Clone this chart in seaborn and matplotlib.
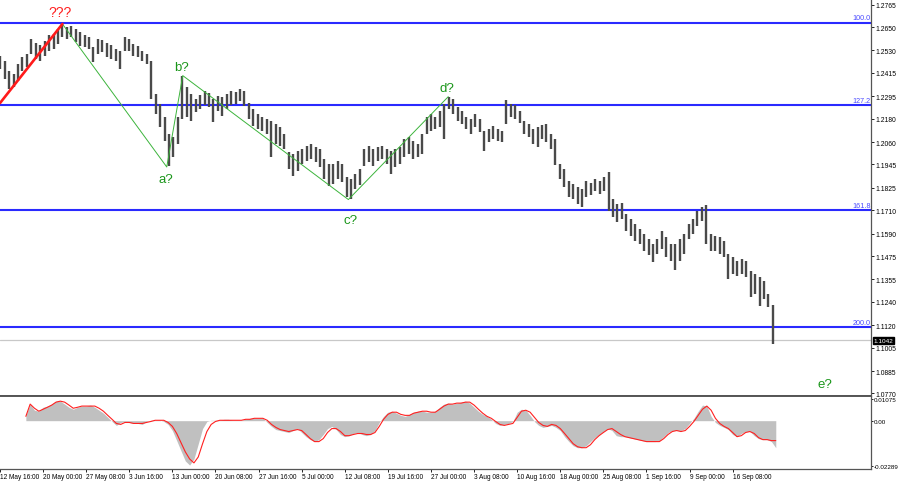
import numpy as np
import matplotlib
matplotlib.use("Agg")
import matplotlib.pyplot as plt
import matplotlib.transforms as mtransforms
import seaborn as sns

# ---------------- data ----------------
highs = [1.2502,1.2476,1.2425,1.2409,1.2461,1.2496,1.2512,1.2589,1.2568,1.2558,
         1.2579,1.2609,1.2614,1.2640,1.2666,1.2650,1.2655,1.2640,1.2625,1.2609,
         1.2599,1.2548,1.2589,1.2584,1.2568,1.2558,1.2537,1.2527,1.2599,1.2589,
         1.2563,1.2553,1.2527,1.2512,1.2476,1.2307,1.2255,1.2189,1.2101,1.2086,
         1.2189,1.2399,1.2343,1.2307,1.2281,1.2302,1.2322,1.2312,1.2281,1.2296,
         1.2291,1.2307,1.2322,1.2317,1.2332,1.2322,1.2260,1.2230,1.2204,1.2189,
         1.2178,1.2168,1.2153,1.2137,1.2101,1.2009,1.1999,1.2014,1.2025,1.2040,
         1.2050,1.2035,1.2025,1.1973,1.1948,1.1948,1.1963,1.1948,1.1881,1.1871,
         1.1896,1.1922,1.2025,1.2040,1.2025,1.2035,1.2040,1.2025,1.2014,1.2025,
         1.2035,1.2076,1.2086,1.2066,1.2050,1.2101,1.2189,1.2204,1.2189,1.2219,
         1.2255,1.2291,1.2281,1.2240,1.2219,1.2189,1.2178,1.2204,1.2178,1.2117,
         1.2127,1.2142,1.2127,1.2117,1.2276,1.2255,1.2250,1.2219,1.2168,1.2153,
         1.2127,1.2137,1.2148,1.2153,1.2101,1.2076,1.1948,1.1922,1.1860,1.1845,
         1.1830,1.1819,1.1860,1.1850,1.1871,1.1860,1.1881,1.1907,1.1768,1.1742,
         1.1747,1.1691,1.1665,1.1640,1.1614,1.1588,1.1563,1.1537,1.1563,1.1604,
         1.1573,1.1537,1.1537,1.1563,1.1588,1.1640,1.1665,1.1706,1.1727,1.1737,
         1.1588,1.1578,1.1573,1.1553,1.1486,1.1470,1.1450,1.1460,1.1450,1.1399,
         1.1383,1.1368,1.1347,1.1281,1.1224]
lows = [1.2435,1.2384,1.2332,1.2343,1.2373,1.2425,1.2445,1.2512,1.2486,1.2476,
        1.2502,1.2527,1.2537,1.2563,1.2599,1.2589,1.2599,1.2573,1.2553,1.2548,
        1.2537,1.2471,1.2512,1.2522,1.2496,1.2486,1.2476,1.2435,1.2527,1.2527,
        1.2502,1.2496,1.2476,1.2461,1.2281,1.2204,1.2137,1.2066,1.1937,1.1983,
        1.2050,1.2178,1.2189,1.2168,1.2214,1.2230,1.2250,1.2240,1.2163,1.2219,
        1.2194,1.2230,1.2250,1.2255,1.2271,1.2245,1.2178,1.2142,1.2127,1.2117,
        1.2101,1.1983,1.2050,1.2040,1.2025,1.1922,1.1886,1.1912,1.1948,1.1963,
        1.1973,1.1958,1.1932,1.1871,1.1835,1.1845,1.1871,1.1855,1.1778,1.1768,
        1.1819,1.1840,1.1937,1.1958,1.1937,1.1963,1.1973,1.1948,1.1896,1.1932,
        1.1948,1.1983,1.1999,1.1973,1.1983,1.1999,1.2101,1.2117,1.2127,1.2137,
        1.2076,1.2230,1.2204,1.2168,1.2153,1.2127,1.2101,1.2137,1.2112,1.2014,
        1.2060,1.2076,1.2066,1.2060,1.2153,1.2189,1.2178,1.2158,1.2101,1.2086,
        1.2050,1.2035,1.2076,1.2060,1.2025,1.1942,1.1871,1.1830,1.1778,1.1768,
        1.1742,1.1727,1.1778,1.1789,1.1809,1.1794,1.1809,1.1706,1.1676,1.1650,
        1.1665,1.1604,1.1578,1.1553,1.1537,1.1501,1.1481,1.1445,1.1486,1.1512,
        1.1470,1.1450,1.1404,1.1450,1.1486,1.1563,1.1588,1.1629,1.1655,1.1537,
        1.1501,1.1501,1.1486,1.1470,1.1358,1.1383,1.1373,1.1383,1.1368,1.1265,
        1.1281,1.1219,1.1255,1.1214,1.1024]

osc = [0.0027,0.0084,0.0053,0.0048,0.0068,0.0074,0.0084,0.0099,0.0099,0.0084,
       0.0068,0.0058,0.0068,0.0074,0.0074,0.0079,0.0068,0.0053,0.0038,0.0017,
       -0.0004,-0.0024,-0.0009,-0.0004,-0.0009,-0.0014,-0.0014,-0.0019,-0.0004,0.0002,
       0.0002,0.0002,-0.0004,-0.0019,-0.0050,-0.0101,-0.0153,-0.0204,-0.0225,-0.0194,
       -0.0117,-0.0040,-0.0004,0.0002,0.0002,0.0002,0.0007,0.0007,0.0002,0.0002,
       0.0002,0.0007,0.0012,0.0012,0.0012,0.0012,-0.0009,-0.0029,-0.0045,-0.0050,
       -0.0055,-0.0060,-0.0050,-0.0040,-0.0060,-0.0081,-0.0096,-0.0106,-0.0096,-0.0070,
       -0.0040,-0.0029,-0.0045,-0.0070,-0.0081,-0.0076,-0.0065,-0.0060,-0.0070,-0.0076,
       -0.0070,-0.0050,-0.0009,0.0022,0.0043,0.0048,0.0038,0.0027,0.0022,0.0032,
       0.0043,0.0048,0.0048,0.0043,0.0043,0.0048,0.0068,0.0084,0.0089,0.0084,
       0.0089,0.0094,0.0099,0.0089,0.0068,0.0048,0.0032,0.0022,0.0007,-0.0014,
       -0.0024,-0.0019,-0.0014,-0.0004,0.0043,0.0058,0.0053,0.0027,-0.0004,-0.0024,
       -0.0034,-0.0029,-0.0024,-0.0034,-0.0050,-0.0081,-0.0106,-0.0127,-0.0137,-0.0137,
       -0.0127,-0.0106,-0.0086,-0.0070,-0.0055,-0.0040,-0.0050,-0.0076,-0.0081,-0.0081,
       -0.0086,-0.0091,-0.0096,-0.0101,-0.0106,-0.0106,-0.0106,-0.0101,-0.0081,-0.0060,
       -0.0050,-0.0050,-0.0050,-0.0040,-0.0014,0.0012,0.0048,0.0079,0.0074,0.0022,
       -0.0009,-0.0024,-0.0034,-0.0045,-0.0070,-0.0081,-0.0065,-0.0055,-0.0055,-0.0076,
       -0.0091,-0.0096,-0.0096,-0.0106,-0.0137]
sig = [0.0022,0.0084,0.0063,0.0048,0.0058,0.0068,0.0079,0.0094,0.0099,0.0094,
       0.0079,0.0063,0.0068,0.0074,0.0074,0.0074,0.0074,0.0063,0.0048,0.0027,
       0.0007,-0.0014,-0.0019,-0.0009,-0.0009,-0.0014,-0.0014,-0.0014,-0.0009,-0.0004,
       0.0002,0.0002,0.0002,-0.0009,-0.0029,-0.0065,-0.0112,-0.0158,-0.0194,-0.0214,
       -0.0184,-0.0117,-0.0055,-0.0019,-0.0004,0.0002,0.0002,0.0002,0.0002,0.0002,
       0.0002,0.0007,0.0007,0.0012,0.0012,0.0012,0.0002,-0.0019,-0.0034,-0.0045,
       -0.0050,-0.0055,-0.0050,-0.0045,-0.0050,-0.0070,-0.0091,-0.0106,-0.0106,-0.0091,
       -0.0060,-0.0040,-0.0040,-0.0055,-0.0076,-0.0076,-0.0070,-0.0065,-0.0065,-0.0070,
       -0.0070,-0.0060,-0.0029,0.0007,0.0032,0.0043,0.0043,0.0032,0.0027,0.0027,
       0.0038,0.0043,0.0048,0.0048,0.0043,0.0043,0.0058,0.0074,0.0084,0.0084,
       0.0089,0.0089,0.0094,0.0094,0.0079,0.0058,0.0038,0.0022,0.0012,-0.0004,
       -0.0019,-0.0024,-0.0019,-0.0014,0.0017,0.0048,0.0053,0.0043,0.0017,-0.0009,
       -0.0024,-0.0029,-0.0019,-0.0024,-0.0040,-0.0065,-0.0091,-0.0117,-0.0132,-0.0137,
       -0.0137,-0.0122,-0.0096,-0.0076,-0.0060,-0.0045,-0.0040,-0.0055,-0.0070,-0.0081,
       -0.0086,-0.0091,-0.0096,-0.0101,-0.0106,-0.0106,-0.0106,-0.0106,-0.0091,-0.0070,
       -0.0055,-0.0050,-0.0055,-0.0050,-0.0029,-0.0004,0.0027,0.0058,0.0074,0.0053,
       0.0012,-0.0014,-0.0029,-0.0040,-0.0060,-0.0081,-0.0076,-0.0060,-0.0055,-0.0065,
       -0.0086,-0.0096,-0.0096,-0.0101,-0.0101]

last_price = 1.1042
fib_levels = [1.2673, 1.2250, 1.1710, 1.1111]
fib_labels = ["100.0", "127.2", "161.8", "200.0"]

wave_x = [14.0, 37.5, 41.1, 78.4, 100.9]
wave_y = [1.2666, 1.1932, 1.2401, 1.1765, 1.2293]
red_x = [-0.05, 14.0]
red_y = [1.2260, 1.2666]

wave_labels = ["a?", "b?", "c?", "d?", "e?"]
wave_label_x = [37.4, 40.8, 78.8, 100.7, 185.8]
wave_label_y = [1.1871, 1.2445, 1.1658, 1.2335, 1.0819]

price_ticks = [1.2765, 1.2650, 1.2530, 1.2415, 1.2295, 1.2180, 1.2060, 1.1945, 1.1825,
               1.1710, 1.1590, 1.1475, 1.1355, 1.1240, 1.1120, 1.1005, 1.0885, 1.0770]
osc_ticks = [0.01075, 0.0, -0.02289]
osc_tick_labels = ["0.01075", "0.00", "-0.02289"]

date_tick_pos = list(range(-6, 165, 10))
date_labels = ["12 May 16:00", "20 May 00:00", "27 May 08:00", "3 Jun 16:00", "13 Jun 00:00",
               "20 Jun 08:00", "27 Jun 16:00", "5 Jul 00:00", "12 Jul 08:00", "19 Jul 16:00",
               "27 Jul 00:00", "3 Aug 08:00", "10 Aug 16:00", "18 Aug 00:00", "25 Aug 08:00",
               "1 Sep 16:00", "9 Sep 00:00", "16 Sep 08:00"]

# ---------------- style ----------------
sns.set_theme(style="white")
plt.rcParams["font.family"] = ["Liberation Sans", "DejaVu Sans"]

fig = plt.figure(figsize=(9, 4.85), dpi=100)
fig.patch.set_facecolor("white")
ax = fig.add_axes([0, 0.1814, 0.9678, 0.8186])
ax2 = fig.add_axes([0, 0.0309, 0.9678, 0.1505])

idx = np.arange(len(highs))
XL = (-0.054, 196.1)

# ---------------- main price panel ----------------
ax.axhline(last_price, color="#c8c8c8", lw=0.9, zorder=1)
for lvl in fib_levels:
    ax.axhline(lvl, color="#2a2aff", lw=1.5, zorder=2)
ax.vlines(idx, lows, highs, color="#4a4a4a", lw=1.7, zorder=3)

sns.lineplot(x=wave_x, y=wave_y, ax=ax, color="#3cb43c", lw=0.7, sort=False, zorder=4)
sns.lineplot(x=red_x, y=red_y, ax=ax, color="#ff1a1a", lw=1.9, sort=False, zorder=5)

ax.text(13.5, 1.2728, "???", color="#ff2020", fontsize=10, ha="center", va="center")
for s, xx, yy in zip(wave_labels, wave_label_x, wave_label_y):
    ax.text(xx, yy, s, color="#1a961a", fontsize=9.5, ha="center", va="center")

trans = mtransforms.blended_transform_factory(ax.transAxes, ax.transData)
for lvl, lab in zip(fib_levels, fib_labels):
    ax.annotate(lab, xy=(1.0, lvl), xycoords=trans, xytext=(-0.3, 0.9),
                textcoords="offset points", ha="right", va="bottom",
                fontsize=5.2, color="#4a4aff")

ax.text(1.003, last_price, "1.1042", transform=trans, ha="left", va="center",
        color="white", fontsize=4.6, zorder=10,
        bbox=dict(boxstyle="square,pad=0.15", fc="black", ec="black"))

ax.set_xlim(*XL)
ax.set_ylim(1.0757, 1.2794)
ax.set_xticks([])
ax.yaxis.tick_right()
ax.set_yticks(price_ticks)
ax.set_yticklabels([f"{v:.4f}" for v in price_ticks])
ax.tick_params(axis="y", right=True, left=False, labelright=True, labelleft=False,
               length=2, width=0.6, pad=1.2, labelsize=4.9, colors="black")
for side in ["left", "top"]:
    ax.spines[side].set_visible(False)
ax.spines["right"].set_color("#555555")
ax.spines["right"].set_linewidth(0.9)
ax.spines["bottom"].set_color("#555555")
ax.spines["bottom"].set_linewidth(1.4)
ax.set_xlabel("")
ax.set_ylabel("")

# ---------------- oscillator panel ----------------
ax2.fill_between(idx, 0, osc, color="#c0c0c0", lw=0, zorder=1)
sns.lineplot(x=idx, y=sig, ax=ax2, color="#ff2020", lw=0.8, zorder=3)
ax2.set_xlim(*XL)
ax2.set_ylim(-0.0245, 0.0125)
ax2.yaxis.tick_right()
ax2.set_yticks(osc_ticks)
ax2.set_yticklabels(osc_tick_labels)
ax2.tick_params(axis="y", right=True, left=False, labelright=True, labelleft=False,
                length=1.5, width=0.6, pad=0.6, labelsize=4.5, colors="black")
ax2.set_xticks(date_tick_pos)
ax2.set_xticklabels(date_labels)
ax2.tick_params(axis="x", bottom=True, length=2, width=0.6, pad=0.8, labelsize=4.7,
                colors="black")
plt.setp(ax2.get_xticklabels(), ha="left")
ax2.spines["left"].set_visible(False)
for side, lw in [("top", 1.4), ("bottom", 0.9), ("right", 0.9)]:
    ax2.spines[side].set_color("#555555")
    ax2.spines[side].set_linewidth(lw)
ax2.set_xlabel("")
ax2.set_ylabel("")

fig.savefig("out.png", dpi=100, facecolor="white")
